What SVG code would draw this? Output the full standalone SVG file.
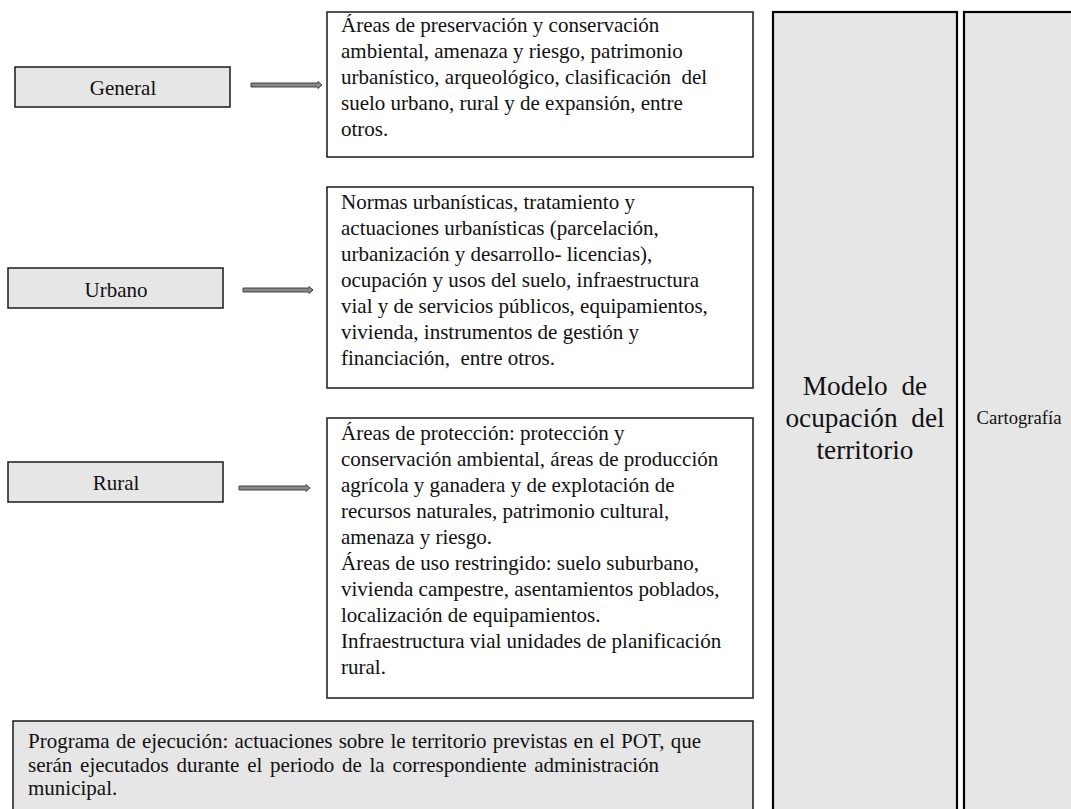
<svg xmlns="http://www.w3.org/2000/svg" width="1071" height="809" viewBox="0 0 1071 809">
<defs>
<style>
.lbl{fill:#e6e6e6;stroke:#1a1a1a;stroke-width:1.5}
.txtbox{fill:#ffffff;stroke:#1a1a1a;stroke-width:1.5}
.col{fill:#e6e6e6;stroke:#000;stroke-width:2.2}
.t{font-family:"Liberation Serif","Times New Roman",serif;font-size:21px;fill:#111}
.c{text-anchor:middle}
.big{font-family:"Liberation Serif","Times New Roman",serif;font-size:27.3px;fill:#111;text-anchor:middle}
.sm{font-family:"Liberation Serif","Times New Roman",serif;font-size:18.7px;fill:#111;text-anchor:middle}
.arr{fill:#8a8a8a;stroke:#333;stroke-width:0.9}
</style>
</defs>
<rect width="1071" height="809" fill="#ffffff"/>

<g id="col-modelo">
<rect class="col" x="773" y="12" width="184" height="810"/>
<text class="big" x="865" y="395" xml:space="preserve">Modelo  de</text>
<text class="big" x="865" y="427" xml:space="preserve">ocupación  del</text>
<text class="big" x="865" y="459">territorio</text>
</g>
<g id="col-cartografia">
<rect class="col" x="964" y="12" width="120" height="810"/>
<text class="sm" x="1019" y="424">Cartografía</text>
</g>

<g id="node-general">
<rect class="lbl" x="15" y="67" width="215" height="40"/>
<text class="t c" x="123" y="95">General</text>
</g>
<g id="node-urbano">
<rect class="lbl" x="8" y="268" width="215" height="40"/>
<text class="t c" x="116" y="297">Urbano</text>
</g>
<g id="node-rural">
<rect class="lbl" x="8" y="462" width="215" height="40"/>
<text class="t c" x="116" y="490">Rural</text>
</g>

<g id="desc-general">
<rect class="txtbox" x="327" y="12" width="426" height="145"/>
<text class="t" x="341" y="32">Áreas de preservación y conservación</text>
<text class="t" x="341" y="58">ambiental, amenaza y riesgo, patrimonio</text>
<text class="t" x="341" y="84" xml:space="preserve">urbanístico, arqueológico, clasificación  del</text>
<text class="t" x="341" y="110">suelo urbano, rural y de expansión, entre</text>
<text class="t" x="341" y="136">otros.</text>
</g>

<g id="desc-urbano">
<rect class="txtbox" x="327" y="187" width="426" height="201"/>
<text class="t" x="341" y="209">Normas urbanísticas, tratamiento y</text>
<text class="t" x="341" y="235">actuaciones urbanísticas (parcelación,</text>
<text class="t" x="341" y="261">urbanización y desarrollo- licencias),</text>
<text class="t" x="341" y="287">ocupación y usos del suelo, infraestructura</text>
<text class="t" x="341" y="313">vial y de servicios públicos, equipamientos,</text>
<text class="t" x="341" y="339">vivienda, instrumentos de gestión y</text>
<text class="t" x="341" y="365" xml:space="preserve">financiación,  entre otros.</text>
</g>

<g id="desc-rural">
<rect class="txtbox" x="327" y="418" width="426" height="280"/>
<text class="t" x="341" y="440">Áreas de protección: protección y</text>
<text class="t" x="341" y="466">conservación ambiental, áreas de producción</text>
<text class="t" x="341" y="492">agrícola y ganadera y de explotación de</text>
<text class="t" x="341" y="518">recursos naturales, patrimonio cultural,</text>
<text class="t" x="341" y="544">amenaza y riesgo.</text>
<text class="t" x="341" y="570">Áreas de uso restringido: suelo suburbano,</text>
<text class="t" x="341" y="596">vivienda campestre, asentamientos poblados,</text>
<text class="t" x="341" y="622">localización de equipamientos.</text>
<text class="t" x="341" y="648">Infraestructura vial unidades de planificación</text>
<text class="t" x="341" y="674">rural.</text>
</g>

<g id="programa">
<rect class="lbl" x="13" y="721" width="740" height="100"/>
<text class="t" x="28" y="748" word-spacing="1">Programa de ejecución: actuaciones sobre le territorio previstas en el POT, que</text>
<text class="t" x="28" y="772" word-spacing="2.5">serán ejecutados durante el periodo de la correspondiente administración</text>
<text class="t" x="28" y="795">municipal.</text>
</g>

<g id="connectors">
<polygon class="arr" points="251,83 318,83 318,81.5 322,85 318,88.5 318,87 251,87"/>
<polygon class="arr" points="243,288 309,288 309,286.5 313,290 309,293.5 309,292 243,292"/>
<polygon class="arr" points="239,486 306,486 306,484.5 310,488 306,491.5 306,490 239,490"/>
</g>
</svg>
